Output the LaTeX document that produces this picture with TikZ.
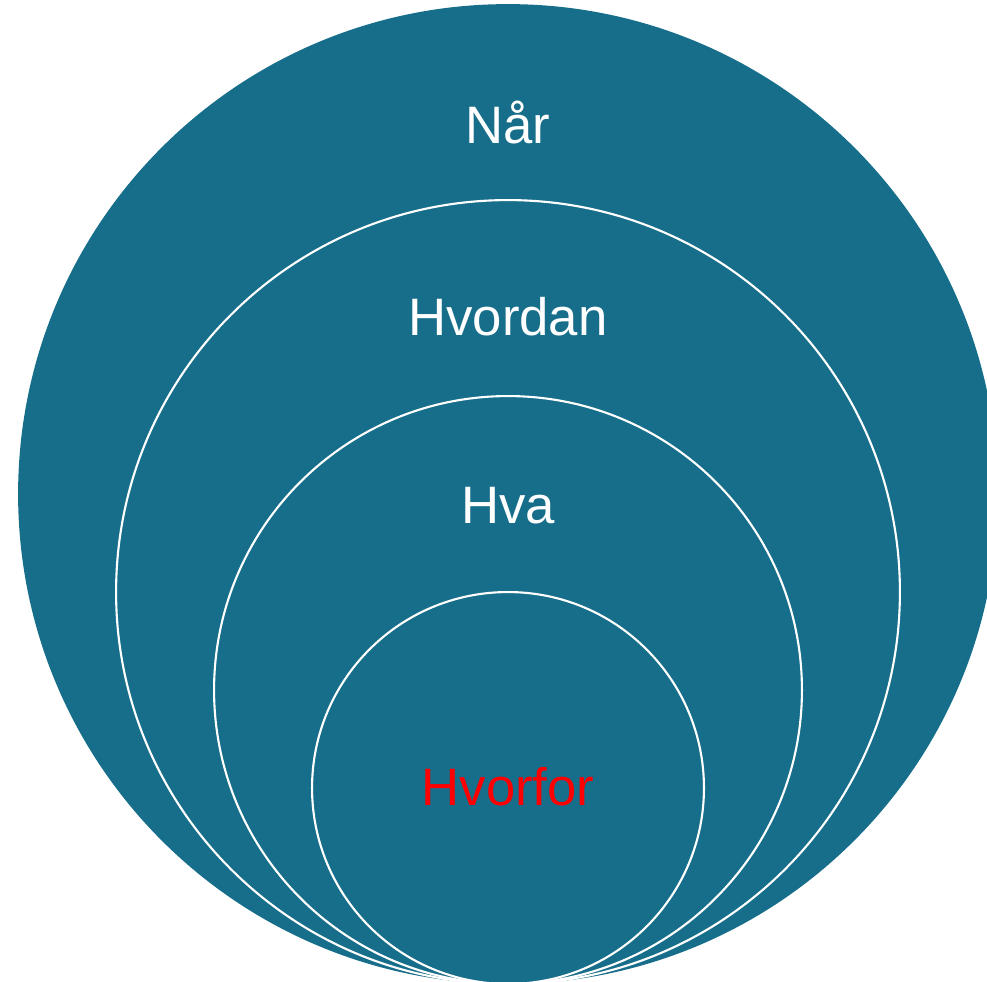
\documentclass[tikz,border=0pt]{standalone}
\usepackage{fontspec}
\setmainfont{Liberation Sans}
\usetikzlibrary{positioning}
\definecolor{ringblue}{RGB}{23,110,138}
\definecolor{whyred}{RGB}{255,0,0}
\newcommand{\colorring}{ringblue}
\newcommand{\colorwhy}{whyred}
\tikzset{
    ring/.style={circle, fill=\colorring, inner sep=0pt, outer sep=0pt},
    inner-ring/.style={ring, draw=white, line width=1.2pt},
    word/.style={anchor=base, text=white, font=\fontsize{30}{36}\selectfont},
    why/.style={word, text=\colorwhy},
}

\begin{document}
\begin{tikzpicture}[x=0.02cm, y=-0.02cm]
            \useasboundingbox (0,0) rectangle (987,981);
            \clip (0,0) rectangle (987,981);

            \path
                (508,494) node[ring, minimum size=19.6cm] (ring-nar) {}
                (508,592) node[inner-ring, minimum size=15.68cm] (ring-hvordan) {}
                (508,690) node[inner-ring, minimum size=11.76cm] (ring-hva) {}
                (508,788) node[inner-ring, minimum size=7.84cm] (ring-hvorfor) {};

            \path
                (508,143) node[word] (nar) {Når}
                (508,335) node[word] (hvordan) {Hvordan}
                (508,523) node[word] (hva) {Hva}
                (508,805) node[why] (hvorfor) {Hvorfor};
\end{tikzpicture}
\end{document}
